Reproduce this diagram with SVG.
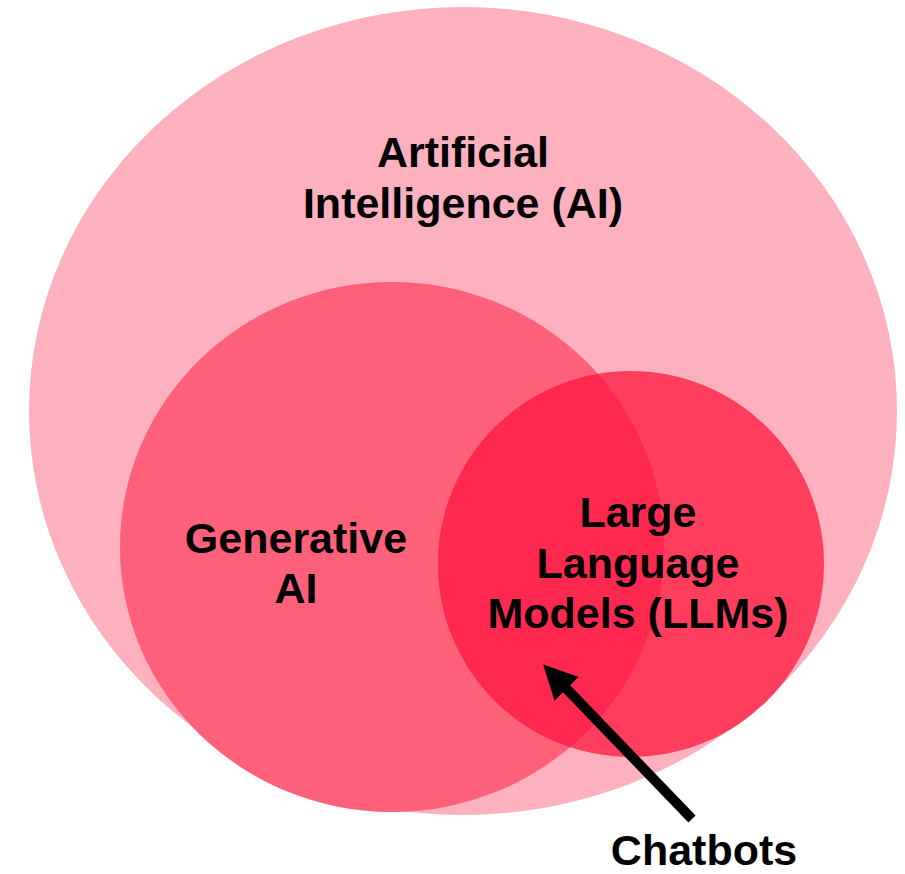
<svg xmlns="http://www.w3.org/2000/svg" width="905" height="874" viewBox="0 0 905 874">
  <style>
    .lbl { font-family: "Liberation Sans", Arial, Helvetica, sans-serif; font-weight: bold; font-size: 43px; fill: #000; text-anchor: middle; }
  </style>
  <defs>
    <clipPath id="genClip">
      <ellipse cx="392" cy="547" rx="272" ry="265"/>
    </clipPath>
    <marker id="arrowHead" viewBox="0 0 10 10" refX="2" refY="5" markerWidth="3.4" markerHeight="3.4" markerUnits="strokeWidth" orient="auto-start-reverse">
      <path d="M0,0 L10,5 L0,10 z" fill="#000"/>
    </marker>
  </defs>
  <rect width="905" height="874" fill="#fff"/>

  <g id="ai">
    <ellipse cx="463" cy="411" rx="434" ry="404" fill="#fdb0be"/>
    <text class="lbl" x="463" y="167">Artificial</text>
    <text class="lbl" x="463" y="218">Intelligence (AI)</text>
  </g>

  <g id="genai">
    <ellipse cx="392" cy="547" rx="272" ry="265" fill="#ff607a"/>
  </g>

  <g id="llm">
    <circle cx="631" cy="564" r="193" fill="#ff3e5e"/>
    <circle cx="631" cy="564" r="193" fill="#ff284f" clip-path="url(#genClip)"/>
  </g>

  <g id="genai-label">
    <text class="lbl" x="296" y="553">Generative</text>
    <text class="lbl" x="296" y="603">AI</text>
  </g>

  <g id="llm-label">
    <text class="lbl" x="638" y="527">Large</text>
    <text class="lbl" x="638" y="578">Language</text>
    <text class="lbl" x="638" y="628">Models (LLMs)</text>
  </g>

  <g id="connectors">
    <line x1="692" y1="819" x2="562" y2="684" stroke="#000" stroke-width="10" marker-end="url(#arrowHead)"/>
  </g>

  <g id="chatbots">
    <text class="lbl" x="704" y="865" font-size="42">Chatbots</text>
  </g>
</svg>
